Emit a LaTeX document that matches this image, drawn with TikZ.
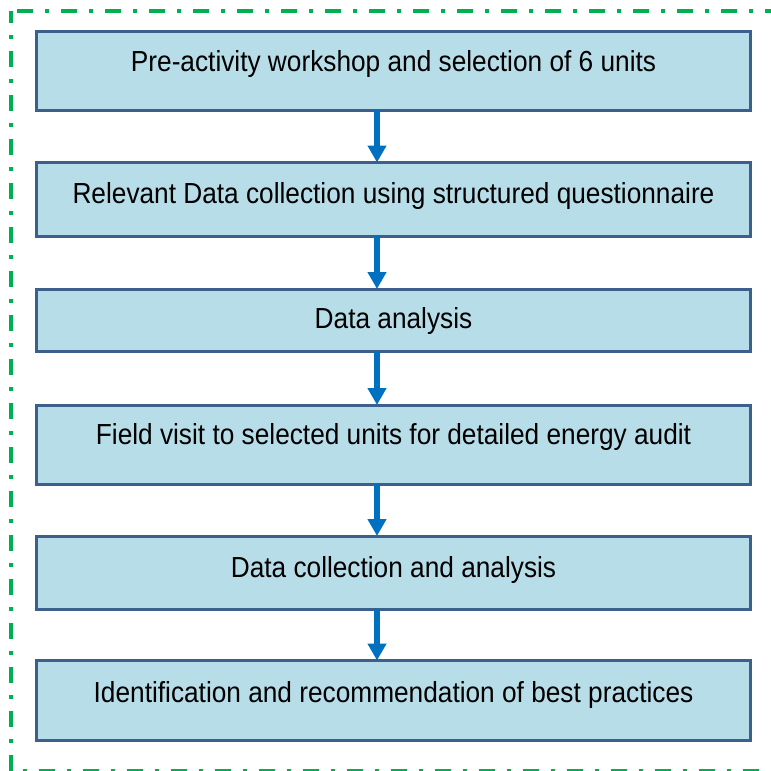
\documentclass[tikz,border=0pt]{standalone}
\usepackage{fontspec}
\setmainfont{Liberation Sans}
\newfontfamily\narrowfont[FakeStretch=0.905]{Liberation Sans}
\usetikzlibrary{arrows.meta}
\definecolor{boxfill}{HTML}{B7DDE8}
\definecolor{boxline}{HTML}{3D5F8B}
\definecolor{arrowblue}{HTML}{0070C0}
\definecolor{framegreen}{HTML}{00B050}
\begin{document}
\begin{tikzpicture}[x=1pt,y=-1pt,
  stepbox/.style={draw=boxline, fill=boxfill, line width=3pt, minimum width=714pt, inner sep=0pt, outer sep=0pt},
  lbl/.style={anchor=base, font=\narrowfont\fontsize{29}{32}\selectfont, inner sep=0pt},
  flow/.style={draw=arrowblue, line width=6pt, -{Triangle[width=18pt,length=17pt]}}]
\useasboundingbox (0,0) rectangle (771,771);
\draw[framegreen, line width=4pt, dash pattern=on 16pt off 12pt on 4pt off 12pt, dash phase=4pt] (11,11) rectangle (778,771);
\node[stepbox, minimum height=78.5pt] (b1) at (393.5,70.75) {};
\node[stepbox, minimum height=73.5pt] (b2) at (393.5,199.25) {};
\node[stepbox, minimum height=62pt] (b3) at (393.5,320) {};
\node[stepbox, minimum height=79pt] (b4) at (393.5,444.5) {};
\node[stepbox, minimum height=73pt] (b5) at (393.5,572.5) {};
\node[stepbox, minimum height=80pt] (b6) at (393.5,700.5) {};
\node[lbl] (t1) at (393.5,71) {Pre-activity workshop and selection of 6 units};
\node[lbl] (t2) at (393.5,203) {Relevant Data collection using structured questionnaire};
\node[lbl] (t3) at (393.5,328) {Data analysis};
\node[lbl] (t4) at (393.5,444) {Field visit to selected units for detailed energy audit};
\node[lbl] (t5) at (393.5,577) {Data collection and analysis};
\node[lbl] (t6) at (393.5,702) {Identification and recommendation of best practices};
\coordinate (ax) at (377,0);
\draw[flow] (b1.south -| ax) -- (b2.north -| ax);
\draw[flow] (b2.south -| ax) -- (b3.north -| ax);
\draw[flow] (b3.south -| ax) -- (b4.north -| ax);
\draw[flow] (b4.south -| ax) -- (b5.north -| ax);
\draw[flow] (b5.south -| ax) -- (b6.north -| ax);
\end{tikzpicture}
\end{document}
